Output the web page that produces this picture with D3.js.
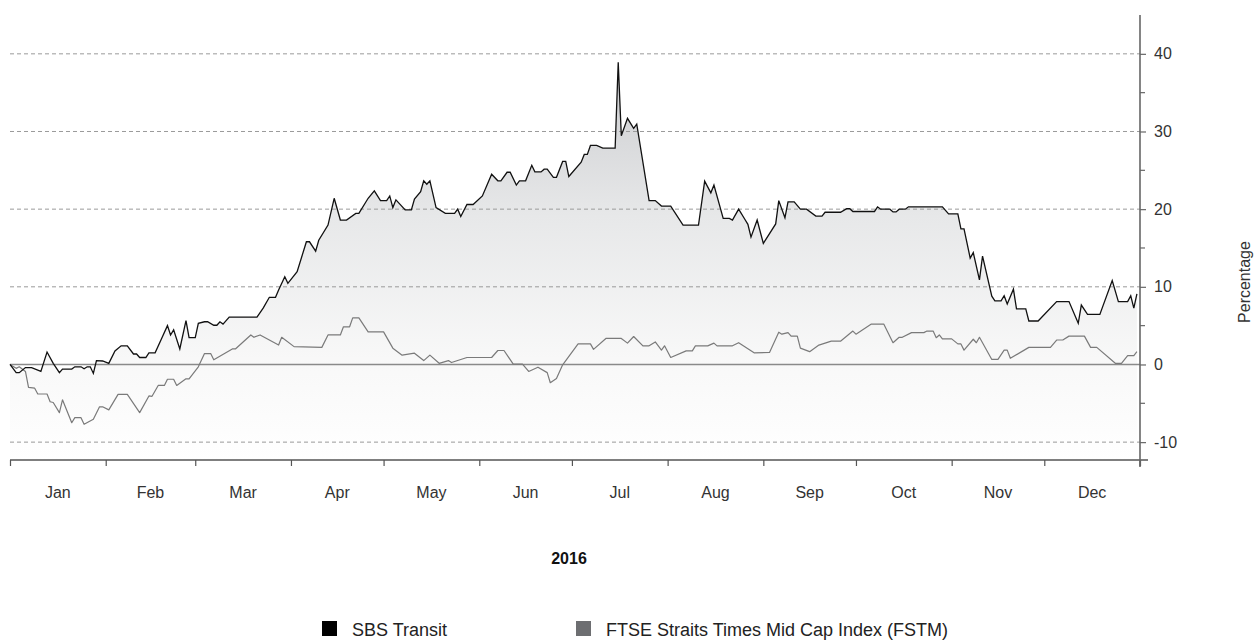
<!DOCTYPE html>
<html lang="en">
<head>
<meta charset="utf-8">
<title>SBS Transit vs FSTM 2016</title>
<script src="https://cdn.jsdelivr.net/npm/d3@7"></script>
<style>
  body { margin: 0; background: #fff; }
  svg { display: block; font-family: "Liberation Sans", Arial, sans-serif; }
</style>
</head>
<body>
<script>
// month labels and y ticks
var monthNames = ["Jan","Feb","Mar","Apr","May","Jun","Jul","Aug","Sep","Oct","Nov","Dec"];
var yTicks = [-10, 0, 10, 20, 30, 40];
var yMinor = [-5, 5, 15, 25, 35];

// SBS Transit: day of year (0 = 1 Jan 2016), % change
var sbsDay = [0,2,3,5,7,10,12,14,16,17,20,21,23,24,25,26,27,28,30,32,34,36,38,40,41,42,44,45,47,49,51,52,53,55,57,58,60,61,63,64,66,67,68,69,71,
  80,82,84,86,87,89,90,93,96,97,99,100,103,105,107,109,112,113,116,118,120,122,123,124,125,128,130,131,133,134,135,136,138,141,144,145,146,148,150,
  153,156,158,159,161,162,164,165,167,169,170,172,173,174,176,177,179,180,181,185,186,187,188,190,192,196,197,198,200,202,203,207,209,211,214,218,
  223,225,227,228,231,233,234,236,238,239,240,242,244,248,249,251,252,254,256,258,261,263,264,269,271,272,273,280,281,282,285,286,287,288,290,291,
  302,304,307,308,309,311,312,314,315,318,319,321,322,323,325,326,329,330,333,339,343,346,347,349,353,357,359,362,363,364,365];
var sbsVal = [0,-1.05,-1.05,-0.4,-0.4,-0.9,1.6,0.15,-1.05,-0.6,-0.6,-0.3,-0.3,-0.55,-0.3,-0.3,-1.15,0.5,0.45,0.15,1.75,2.4,2.4,1.35,1.35,0.9,0.9,1.5,1.5,3.25,5.0,3.8,4.45,2.0,5.65,3.45,3.45,5.3,5.5,5.5,5.05,5.05,5.5,5.2,6.1,
  6.1,7.25,8.65,8.65,9.6,11.3,10.45,11.95,15.8,15.8,14.6,16.0,17.95,21.4,18.6,18.6,19.45,19.45,21.4,22.35,21.1,21.1,21.7,20.2,21.2,19.9,19.9,21.3,22.25,23.65,23.2,23.65,20.2,19.45,19.45,20.0,19.05,20.6,20.6,
  21.7,24.5,23.65,23.65,24.75,24.75,23.1,23.65,23.65,25.65,24.8,24.8,25.15,25.15,24.1,24.1,26.15,26.15,24.2,26.05,27.05,27.05,28.2,28.2,27.85,27.85,38.9,29.45,31.7,30.4,30.95,21.1,21.1,20.4,20.4,17.95,
  17.95,23.6,22.1,23.1,18.8,18.8,18.6,20.0,18.7,18.05,16.4,18.6,15.6,18.1,21.1,18.9,20.95,20.95,20.0,20.0,19.1,19.1,19.6,19.6,20.05,20.05,19.7,19.7,20.3,20.0,20.0,19.65,19.65,20.0,20.0,20.3,
  20.3,19.4,19.4,17.45,17.45,13.7,14.4,10.9,13.95,8.8,8.2,8.2,8.85,7.8,9.7,7.15,7.15,5.6,5.6,8.1,8.1,5.3,7.65,6.45,6.45,10.8,8.1,8.1,8.85,7.25,9.1];

// FTSE Straits Times Mid Cap Index (FSTM): day of year, % change
var fstmDay = [0,2,3,5,6,8,9,12,13,14,16,17,20,21,23,24,27,29,30,32,35,38,42,45,46,48,50,51,53,54,57,58,61,63,65,66,72,73,78,79,81,87,88,92,
  101,103,107,108,110,111,113,116,121,124,127,131,134,136,139,142,143,148,156,158,160,163,166,168,171,174,175,177,179,184,188,189,193,198,200,
  202,205,207,209,211,212,214,219,221,222,226,228,229,234,236,241,246,249,250,252,253,255,256,259,262,266,269,273,274,279,283,286,288,289,292,
  296,297,299,300,301,302,305,307,308,309,312,313,314,318,320,322,323,324,330,337,339,341,343,348,350,352,358,360,362,364,365];
var fstmVal = [0,-0.5,-0.3,-0.9,-2.95,-3.05,-3.8,-3.8,-4.8,-4.9,-6.2,-4.55,-7.5,-6.85,-6.85,-7.7,-7.05,-5.45,-5.45,-5.85,-3.85,-3.85,-6.2,-4.05,-4.1,-2.7,-2.7,-1.9,-1.9,-2.7,-1.85,-1.85,-0.3,1.4,1.4,0.6,2.0,2.0,3.8,3.5,3.8,2.5,3.5,2.3,
  2.2,3.8,3.8,4.85,4.85,6.0,6.0,4.2,4.2,2.1,1.2,1.45,0.5,1.2,0.15,0.5,0.25,0.9,0.9,1.8,1.8,0.05,0.05,-0.9,-0.35,-1.05,-2.35,-1.8,-0.05,2.65,2.65,1.95,3.35,3.35,2.75,
  3.6,2.4,2.4,2.9,1.85,2.4,0.9,1.75,1.75,2.4,2.4,2.75,2.4,2.4,2.8,1.5,1.55,4.15,3.9,4.1,3.65,3.65,2.1,1.65,2.5,3.0,3.0,4.3,3.9,5.2,5.2,2.8,3.5,3.5,4.1,
  4.1,4.3,4.3,3.45,3.8,3.3,3.3,2.65,2.65,1.85,3.25,2.8,3.5,0.65,0.65,1.85,1.85,0.8,2.2,2.2,3.15,3.15,3.65,3.65,2.2,2.2,0.15,0.15,1.15,1.15,1.65];

var W = 1258, H = 641;
var plotLeft = 10, plotRight = 1140, plotTop = 15, plotBottom = 460;

var start = new Date(2016, 0, 1), end = new Date(2017, 0, 1);
function toDate(d) { return d3.timeDay.offset(start, d); }

var sbs = sbsDay.map(function(d, i) { return {date: toDate(d), v: sbsVal[i]}; });
var fstm = fstmDay.map(function(d, i) { return {date: toDate(d), v: fstmVal[i]}; });

var x = d3.scaleTime().domain([start, end]).range([plotLeft, plotRight]);
var y = d3.scaleLinear().domain([-12.3, 45]).range([plotBottom, plotTop]);

var svg = d3.select("body").append("svg").attr("width", W).attr("height", H);

// gradient for the area under SBS
var grad = svg.append("defs").append("linearGradient")
  .attr("id", "fillGrad").attr("gradientUnits", "userSpaceOnUse")
  .attr("x1", 0).attr("x2", 0).attr("y1", y(40)).attr("y2", plotBottom);
grad.append("stop").attr("offset", "0%").attr("stop-color", "#c9cacd");
grad.append("stop").attr("offset", "40%").attr("stop-color", "#e7e8e9");
grad.append("stop").attr("offset", "75%").attr("stop-color", "#f8f8f8");
grad.append("stop").attr("offset", "100%").attr("stop-color", "#ffffff");

svg.append("path").datum(sbs)
  .attr("fill", "url(#fillGrad)")
  .attr("d", d3.area().x(function(d) { return x(d.date); }).y0(plotBottom).y1(function(d) { return y(d.v); }));

// dashed gridlines
svg.append("g").selectAll("line")
  .data(yTicks.filter(function(t) { return t !== 0; }))
  .enter().append("line")
  .attr("x1", plotLeft).attr("x2", plotRight)
  .attr("y1", function(d) { return y(d); }).attr("y2", function(d) { return y(d); })
  .attr("stroke", "#9a9a9a").attr("stroke-width", 1).attr("stroke-dasharray", "4,3");

// zero line
svg.append("line")
  .attr("x1", plotLeft).attr("x2", plotRight).attr("y1", y(0)).attr("y2", y(0))
  .attr("stroke", "#8a8a8a").attr("stroke-width", 1.3);

var line = d3.line().x(function(d) { return x(d.date); }).y(function(d) { return y(d.v); });

svg.append("path").datum(fstm)
  .attr("fill", "none").attr("stroke", "#7a7a7a").attr("stroke-width", 1.2)
  .attr("stroke-linejoin", "round").attr("d", line);

svg.append("path").datum(sbs)
  .attr("fill", "none").attr("stroke", "#111").attr("stroke-width", 1.3)
  .attr("stroke-linejoin", "miter").attr("d", line);

// x axis
var xAxis = svg.append("g").attr("transform", "translate(0," + plotBottom + ")")
  .call(d3.axisBottom(x).ticks(d3.timeMonth.every(1)).tickFormat("").tickSizeInner(6).tickSizeOuter(0));
xAxis.select(".domain").attr("stroke", "#555").attr("stroke-width", 1.5)
  .attr("d", "M" + plotLeft + ",0H" + (plotRight + 8));
xAxis.selectAll(".tick line").attr("stroke", "#555").attr("stroke-width", 1.2);
// closing tick at end of year
xAxis.append("line").attr("x1", x(end)).attr("x2", x(end)).attr("y1", 0).attr("y2", 6)
  .attr("stroke", "#555").attr("stroke-width", 1.2);

svg.append("g").selectAll("text")
  .data(monthNames).enter().append("text")
  .attr("x", function(d, i) {
    return (x(new Date(2016, i, 1)) + x(new Date(2016, i + 1, 1))) / 2;
  })
  .attr("y", plotBottom + 38)
  .attr("text-anchor", "middle")
  .attr("font-size", "16px").attr("fill", "#333")
  .text(function(d) { return d; });

// y axis on the right
var yAxis = svg.append("g").attr("transform", "translate(" + plotRight + ",0)")
  .call(d3.axisRight(y).tickValues(yTicks).tickSize(6).tickPadding(8)
    .tickFormat(function(d) { return String(d); }));
yAxis.select(".domain").attr("stroke", "#666").attr("stroke-width", 1.6)
  .attr("d", "M0," + plotTop + "V" + (plotBottom + 7));
yAxis.selectAll(".tick line").attr("stroke", "#666").attr("stroke-width", 1.2);
yAxis.selectAll(".tick text").attr("font-size", "16px").attr("fill", "#333")
  .attr("font-family", "Liberation Sans, Arial, sans-serif");

yAxis.selectAll(".minor").data(yMinor).enter().append("line")
  .attr("class", "minor")
  .attr("x1", 0).attr("x2", 5)
  .attr("y1", function(d) { return y(d); }).attr("y2", function(d) { return y(d); })
  .attr("stroke", "#666").attr("stroke-width", 1.2);

svg.append("text")
  .attr("transform", "translate(1250,282) rotate(-90)")
  .attr("text-anchor", "middle")
  .attr("font-size", "16px").attr("fill", "#333")
  .text("Percentage");

svg.append("text")
  .attr("x", 569).attr("y", 564)
  .attr("text-anchor", "middle")
  .attr("font-size", "16px").attr("font-weight", "bold").attr("fill", "#111")
  .text("2016");

// legend
var legendItems = [
  {name: "SBS Transit", color: "#000", x: 322},
  {name: "FTSE Straits Times Mid Cap Index (FSTM)", color: "#6d6e71", x: 576}
];
var lg = svg.append("g").selectAll("g").data(legendItems).enter().append("g")
  .attr("transform", function(d) { return "translate(" + d.x + ",621)"; });
lg.append("rect").attr("width", 15).attr("height", 15).attr("fill", function(d) { return d.color; });
lg.append("text").attr("x", 30).attr("y", 15)
  .attr("font-size", "18px").attr("fill", "#222")
  .text(function(d) { return d.name; });
</script>
</body>
</html>
